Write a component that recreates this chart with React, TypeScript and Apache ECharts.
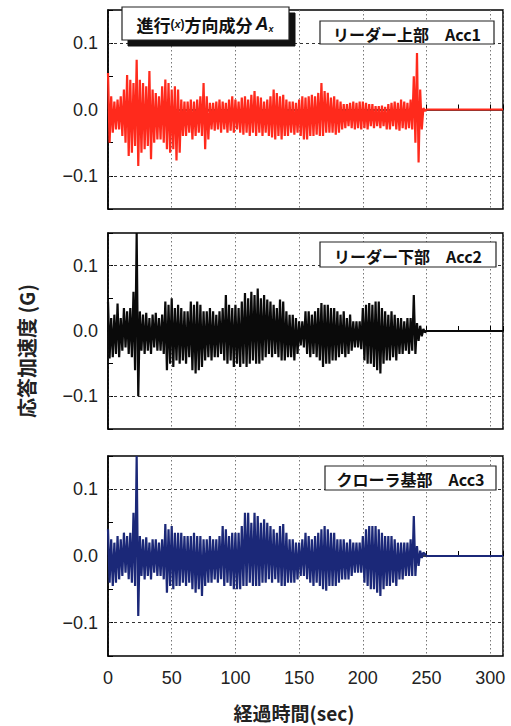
import React, { useEffect, useRef } from 'react';
import * as echarts from 'echarts';

// time step of each envelope bin (sec); signals end at 250 sec, axis to 310 sec
const DT = 2.5;
const END_TIME = 250;
const X_MAX = 310;

const xTicks = [0, 50, 100, 150, 200, 250, 300];
const yTickLabels = ['0.1', '0.0', '−0.1'];

const panelTitles = ['リーダー上部　Acc1', 'リーダー下部　Acc2', 'クローラ基部　Acc3'];
const panelColors = ['#ff2a1c', '#0a0a0a', '#1b2878'];

// upper / lower envelope of each record, one value per 2.5 sec bin (0 .. 247.5 sec)
const acc1Hi = [
  0.055, 0.02, 0.012, 0.015, 0.02, 0.03, 0.052, 0.045, 0.04, 0.075,
  0.045, 0.04, 0.035, 0.058, 0.03, 0.025, 0.02, 0.035, 0.045, 0.04,
  0.03, 0.035, 0.03, 0.015, 0.012, 0.012, 0.015, 0.012, 0.015, 0.02,
  0.04, 0.02, 0.01, 0.01, 0.012, 0.015, 0.012, 0.01, 0.015, 0.02,
  0.015, 0.012, 0.018, 0.02, 0.015, 0.022, 0.028, 0.02, 0.018, 0.012,
  0.015, 0.02, 0.03, 0.025, 0.02, 0.022, 0.015, 0.012, 0.012, 0.01,
  0.015, 0.02, 0.018, 0.02, 0.022, 0.02, 0.025, 0.04, 0.028, 0.025,
  0.018, 0.02, 0.015, 0.012, 0.008, 0.008, 0.01, 0.012, 0.01, 0.012,
  0.012, 0.01, 0.008, 0.008, 0.005, 0.005, 0.006, 0.004, 0.008, 0.01,
  0.012, 0.01, 0.015, 0.012, 0.01, 0.015, 0.05, 0.085, 0.03, 0.002,
];
const acc1Lo = [
  -0.05, -0.035, -0.03, -0.03, -0.04, -0.05, -0.07, -0.065, -0.055, -0.085,
  -0.065, -0.06, -0.055, -0.075, -0.05, -0.045, -0.045, -0.05, -0.06, -0.065,
  -0.06, -0.077, -0.065, -0.04, -0.04, -0.035, -0.045, -0.04, -0.035, -0.04,
  -0.06, -0.045, -0.03, -0.032, -0.03, -0.035, -0.03, -0.035, -0.032, -0.035,
  -0.03, -0.035, -0.038, -0.035, -0.04, -0.035, -0.04, -0.035, -0.04, -0.035,
  -0.04, -0.042, -0.045, -0.04, -0.045, -0.04, -0.04, -0.035, -0.038, -0.035,
  -0.04, -0.045, -0.045, -0.04, -0.04, -0.038, -0.04, -0.04, -0.035, -0.035,
  -0.035, -0.038, -0.035, -0.03, -0.028, -0.025, -0.028, -0.03, -0.028, -0.03,
  -0.028, -0.03, -0.025, -0.028, -0.025, -0.028, -0.025, -0.03, -0.03, -0.025,
  -0.03, -0.032, -0.028, -0.03, -0.028, -0.03, -0.05, -0.08, -0.03, -0.002,
];
const acc2Hi = [
  0.045, 0.02, 0.025, 0.042, 0.02, 0.035, 0.03, 0.035, 0.06, 0.15,
  0.03, 0.025, 0.028, 0.02, 0.025, 0.028, 0.02, 0.025, 0.045, 0.04,
  0.05, 0.035, 0.04, 0.035, 0.03, 0.03, 0.045, 0.04, 0.045, 0.04,
  0.03, 0.03, 0.035, 0.03, 0.025, 0.03, 0.035, 0.055, 0.04, 0.035,
  0.04, 0.035, 0.045, 0.058, 0.05, 0.06, 0.055, 0.065, 0.05, 0.055,
  0.048, 0.045, 0.04, 0.035, 0.048, 0.045, 0.03, 0.025, 0.025, 0.02,
  0.015, 0.015, 0.03, 0.03, 0.025, 0.03, 0.035, 0.043, 0.04, 0.04,
  0.035, 0.035, 0.03, 0.025, 0.03, 0.02, 0.025, 0.015, 0.015, 0.015,
  0.035, 0.04, 0.043, 0.04, 0.045, 0.045, 0.035, 0.03, 0.025, 0.03,
  0.025, 0.02, 0.02, 0.015, 0.02, 0.02, 0.055, 0.012, 0.008, 0.003,
];
const acc2Lo = [
  -0.042, -0.04, -0.035, -0.04, -0.03, -0.025, -0.035, -0.04, -0.06, -0.1,
  -0.03, -0.035, -0.03, -0.035, -0.025, -0.03, -0.03, -0.035, -0.06, -0.05,
  -0.055, -0.045, -0.05, -0.045, -0.05, -0.04, -0.06, -0.065, -0.06, -0.055,
  -0.045, -0.04, -0.045, -0.04, -0.04, -0.035, -0.045, -0.05, -0.045, -0.055,
  -0.05, -0.055, -0.05, -0.055, -0.05, -0.045, -0.05, -0.05, -0.045, -0.04,
  -0.035, -0.04, -0.035, -0.04, -0.045, -0.045, -0.04, -0.04, -0.045, -0.035,
  -0.022, -0.025, -0.035, -0.04, -0.035, -0.04, -0.045, -0.055, -0.05, -0.05,
  -0.045, -0.045, -0.04, -0.035, -0.04, -0.035, -0.03, -0.025, -0.025, -0.028,
  -0.045, -0.05, -0.05, -0.055, -0.06, -0.065, -0.05, -0.045, -0.045, -0.04,
  -0.045, -0.035, -0.035, -0.03, -0.035, -0.03, -0.035, -0.015, -0.008, -0.002,
];
const acc3Hi = [
  0.04, 0.025, 0.02, 0.03, 0.025, 0.035, 0.03, 0.035, 0.065, 0.15,
  0.03, 0.025, 0.028, 0.02, 0.025, 0.025, 0.02, 0.025, 0.048, 0.04,
  0.045, 0.035, 0.035, 0.035, 0.03, 0.03, 0.03, 0.035, 0.03, 0.03,
  0.025, 0.025, 0.03, 0.025, 0.025, 0.03, 0.045, 0.04, 0.03, 0.035,
  0.035, 0.035, 0.045, 0.065, 0.065, 0.05, 0.065, 0.06, 0.05, 0.055,
  0.05, 0.045, 0.04, 0.035, 0.045, 0.048, 0.035, 0.025, 0.025, 0.02,
  0.02, 0.025, 0.035, 0.03, 0.025, 0.03, 0.035, 0.04, 0.045, 0.04,
  0.035, 0.035, 0.025, 0.025, 0.025, 0.02, 0.025, 0.02, 0.02, 0.02,
  0.03, 0.04, 0.045, 0.045, 0.045, 0.04, 0.035, 0.03, 0.03, 0.03,
  0.025, 0.02, 0.02, 0.02, 0.02, 0.025, 0.06, 0.015, 0.008, 0.005,
];
const acc3Lo = [
  -0.04, -0.045, -0.04, -0.035, -0.03, -0.025, -0.035, -0.04, -0.045, -0.09,
  -0.03, -0.035, -0.03, -0.035, -0.025, -0.03, -0.03, -0.035, -0.055, -0.045,
  -0.05, -0.045, -0.045, -0.04, -0.045, -0.04, -0.05, -0.055, -0.05, -0.06,
  -0.045, -0.04, -0.04, -0.035, -0.04, -0.035, -0.045, -0.04, -0.045, -0.05,
  -0.05, -0.05, -0.045, -0.045, -0.04, -0.045, -0.045, -0.045, -0.04, -0.04,
  -0.035, -0.04, -0.035, -0.04, -0.045, -0.045, -0.04, -0.04, -0.04, -0.035,
  -0.03, -0.03, -0.035, -0.04, -0.045, -0.04, -0.045, -0.05, -0.052, -0.045,
  -0.045, -0.045, -0.04, -0.035, -0.035, -0.035, -0.03, -0.025, -0.025, -0.025,
  -0.04, -0.045, -0.05, -0.05, -0.055, -0.06, -0.05, -0.045, -0.045, -0.04,
  -0.045, -0.035, -0.035, -0.03, -0.03, -0.03, -0.03, -0.015, -0.003, 0.003,
];

const envelopes = [
  [acc1Hi, acc1Lo],
  [acc2Hi, acc2Lo],
  [acc3Hi, acc3Lo],
];

function buildTrace(hi: number[], lo: number[]) {
  const pts: number[][] = [];
  for (let i = 0; i < hi.length; i++) {
    const t = i * DT;
    pts.push([t, hi[i]]);
    pts.push([t + DT / 2, lo[i]]);
  }
  pts.push([END_TIME, 0]);
  pts.push([X_MAX, 0]);
  return pts;
}

const LATIN = "'Liberation Sans', Arial, sans-serif";
const CJK = "'Noto Sans CJK JP', 'Noto Sans CJK SC', sans-serif";

const grids = [
  { left: 108, top: 10, width: 395, height: 199 },
  { left: 108, top: 233, width: 395, height: 196 },
  { left: 108, top: 456, width: 395, height: 200 },
];

const boxes = [
  { x: 320, y: 21, w: 174, h: 23 },
  { x: 320, y: 242, w: 176, h: 25 },
  { x: 325, y: 466, w: 171, h: 24 },
];

export default function App() {
  const ref = useRef<HTMLDivElement>(null);
  useEffect(() => {
    if (!ref.current) return;
    const chart = echarts.init(ref.current, undefined, { renderer: 'svg' });
    const near = (a: number, b: number) => Math.abs(a - b) < 1e-6;

    const option: any = {
      animation: false,
      backgroundColor: '#fff',
      grid: grids.map((g) => ({
        ...g,
        show: true,
        borderColor: '#000',
        borderWidth: 1.5,
        backgroundColor: 'transparent',
      })),
      xAxis: grids.map((_, i) => ({
        type: 'value',
        gridIndex: i,
        min: 0,
        max: X_MAX,
        interval: 50,
        axisLine: { show: true, lineStyle: { color: '#000', width: 1.5 } },
        axisTick: { show: true, inside: true, length: 5, lineStyle: { color: '#000', width: 1 } },
        minorTick: { show: true, splitNumber: 2, length: 5, lineStyle: { color: '#000', width: 1 } },
        splitLine: { show: true, lineStyle: { color: '#777', type: [1.5, 2.5], width: 1 } },
        axisLabel: {
          show: i === 2,
          fontSize: 18,
          fontFamily: LATIN,
          color: '#222',
          margin: 13,
          formatter: (v: number) => (xTicks.some((t) => near(t, v)) ? String(v) : ''),
        },
      })),
      yAxis: grids.map((_, i) => ({
        type: 'value',
        gridIndex: i,
        min: -0.15,
        max: 0.15,
        interval: 0.05,
        axisLine: { show: true, lineStyle: { color: '#000', width: 1.5 } },
        axisTick: { show: true, inside: true, length: 5, lineStyle: { color: '#000', width: 1 } },
        splitLine: { show: false },
        axisLabel: {
          fontSize: 18,
          fontFamily: LATIN,
          color: '#222',
          margin: 10,
          formatter: (v: number) => {
            if (near(v, 0.1)) return yTickLabels[0];
            if (near(v, 0)) return yTickLabels[1];
            if (near(v, -0.1)) return yTickLabels[2];
            return '';
          },
        },
      })),
      series: envelopes.map(([hi, lo], i) => ({
        type: 'line',
        xAxisIndex: i,
        yAxisIndex: i,
        data: buildTrace(hi, lo),
        showSymbol: false,
        symbol: 'none',
        lineStyle: { color: panelColors[i], width: 2.2, join: 'bevel' },
        itemStyle: { color: panelColors[i] },
        z: 3,
        markLine: {
          silent: true,
          symbol: 'none',
          label: { show: false },
          lineStyle: { color: '#333', type: [3, 3], width: 1 },
          data: [{ yAxis: 0.1 }, { yAxis: -0.1 }],
          z: 2,
        },
      })),
      graphic: [
        // y-axis title
        {
          type: 'text',
          x: 26,
          y: 351,
          rotation: Math.PI / 2,
          style: {
            text: '応答加速度 (G)',
            fill: '#222',
            font: `bold 20px ${CJK}`,
            align: 'center',
            verticalAlign: 'middle',
          },
        },
        // x-axis title
        {
          type: 'text',
          x: 294,
          y: 712,
          style: {
            text: '経過時間(sec)',
            fill: '#222',
            font: `bold 19px ${CJK}`,
            align: 'center',
            verticalAlign: 'middle',
          },
        },
        // component title box with shadow
        {
          type: 'rect',
          z: 100,
          shape: { x: 128, y: 13, width: 167, height: 33 },
          style: { fill: '#111', stroke: '#111', lineWidth: 1 },
        },
        {
          type: 'rect',
          z: 101,
          shape: { x: 122, y: 7, width: 167, height: 33 },
          style: { fill: '#fff', stroke: '#222', lineWidth: 1.2 },
        },
        {
          type: 'text',
          z: 102,
          x: 205,
          y: 24,
          style: {
            text: '{a|進行}{p|(}{v|x}{p|)}{a|方向成分}{c|A}{d|x}',
            align: 'center',
            verticalAlign: 'middle',
            fill: '#111',
            rich: {
              a: { font: `bold 17px ${CJK}`, fill: '#111' },
              p: { font: `bold 12px ${LATIN}`, fill: '#111' },
              v: { font: `italic bold 11px ${LATIN}`, fill: '#111' },
              c: { font: `italic bold 18px ${LATIN}`, fill: '#111', padding: [0, 0, 0, 3] },
              d: { font: `italic bold 9px ${LATIN}`, fill: '#111', verticalAlign: 'bottom', padding: [8, 0, 0, 0] },
            },
          },
        },
        // panel label boxes
        ...boxes.flatMap((b, i) => [
          {
            type: 'rect',
            z: 100,
            shape: { x: b.x, y: b.y, width: b.w, height: b.h },
            style: { fill: '#fff', stroke: '#222', lineWidth: 1.2 },
          },
          {
            type: 'text',
            z: 101,
            x: b.x + b.w / 2,
            y: b.y + b.h / 2 + 1,
            style: {
              text: panelTitles[i],
              fill: '#111',
              font: `bold 16px ${CJK}`,
              align: 'center',
              verticalAlign: 'middle',
            },
          },
        ]),
      ],
    };
    chart.setOption(option);
    return () => chart.dispose();
  }, []);
  return (
    <div
      ref={ref}
      style={{ position: 'absolute', left: 0, top: 0, width: 511, height: 726, background: '#fff' }}
    />
  );
}
